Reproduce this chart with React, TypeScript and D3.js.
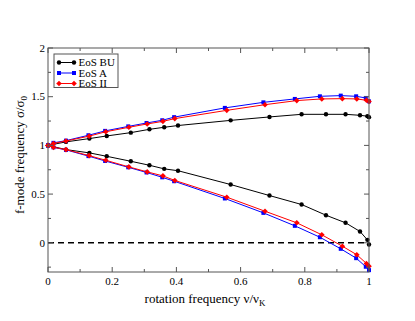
import React from "react";
import * as d3 from "d3";

const buX = [0, 0.056, 0.129, 0.183, 0.258, 0.316, 0.362, 0.405, 0.569, 0.69, 0.79, 0.866, 0.927, 0.972, 0.995, 1.0];
const buUpper = [1.0, 1.036, 1.07, 1.097, 1.131, 1.165, 1.186, 1.204, 1.257, 1.292, 1.319, 1.319, 1.319, 1.309, 1.3, 1.29];
const buLower = [1.0, 0.957, 0.923, 0.888, 0.837, 0.796, 0.759, 0.74, 0.598, 0.485, 0.393, 0.283, 0.205, 0.116, 0.03, -0.017];

const aX = [0, 0.017, 0.056, 0.126, 0.178, 0.25, 0.307, 0.356, 0.393, 0.551, 0.671, 0.769, 0.847, 0.912, 0.96, 0.99, 1.0];
const aUpper = [1.0, 1.026, 1.049, 1.104, 1.149, 1.195, 1.23, 1.258, 1.29, 1.385, 1.442, 1.477, 1.504, 1.511, 1.504, 1.487, 1.452];
const aLower = [1.0, 0.98, 0.954, 0.89, 0.84, 0.775, 0.722, 0.672, 0.632, 0.455, 0.307, 0.174, 0.057, -0.062, -0.158, -0.246, -0.281];

const iiX = [0, 0.017, 0.056, 0.128, 0.18, 0.252, 0.309, 0.358, 0.395, 0.557, 0.676, 0.775, 0.853, 0.917, 0.962, 0.992, 1.0];
const iiUpper = [1.0, 1.02, 1.045, 1.095, 1.14, 1.186, 1.22, 1.247, 1.275, 1.36, 1.418, 1.46, 1.477, 1.48, 1.477, 1.463, 1.45];
const iiLower = [1.0, 0.98, 0.957, 0.895, 0.847, 0.779, 0.728, 0.687, 0.64, 0.468, 0.324, 0.205, 0.082, -0.035, -0.123, -0.212, -0.24];

const xMajor = [0, 0.2, 0.4, 0.6, 0.8, 1];
const xMinor = [0.1, 0.3, 0.5, 0.7, 0.9];
const yMajor = [0, 0.5, 1, 1.5, 2];
const yMinor = [-0.25, 0.25, 0.75, 1.25, 1.75];
const legendLabels = ["EoS BU", "EoS A", "EoS II"];

const W = 415, H = 321;
const L = 48, R = 369, T = 48, B = 272;
const FONT = "Liberation Serif";

export default function App() {
  const x = d3.scaleLinear().domain([0, 1]).range([L, R]);
  const y = d3.scaleLinear().domain([-0.3, 2]).range([B, T]);
  const line = (xs: number[], ys: number[]) =>
    d3.line<number>().x((_, i) => x(xs[i])).y((d) => y(d))(ys) || "";

  const series = [
    { xs: buX, ys: [buUpper, buLower], color: "#000000", sym: "circle" },
    { xs: aX, ys: [aUpper, aLower], color: "#0000ff", sym: "square" },
    { xs: iiX, ys: [iiUpper, iiLower], color: "#ff0000", sym: "diamond" },
  ];

  const marker = (sym: string, cx: number, cy: number, color: string, key: string) => {
    if (sym === "circle") return <circle key={key} cx={cx} cy={cy} r={2.2} fill={color} />;
    if (sym === "square") return <rect key={key} x={cx - 2} y={cy - 2} width={4} height={4} fill={color} />;
    return <path key={key} d={`M${cx},${cy - 2.8}L${cx + 2.8},${cy}L${cx},${cy + 2.8}L${cx - 2.8},${cy}Z`} fill={color} />;
  };

  const frame = "#555";
  return (
    <svg width={W} height={H} style={{ position: "absolute", left: 0, top: 0, background: "#fff" }}>
      <rect x={0} y={0} width={W} height={H} fill="#fff" />
      <line x1={L} x2={R} y1={y(0)} y2={y(0)} stroke="#000" strokeWidth={1.4} strokeDasharray="6,4" />
      {series.map((s, si) =>
        s.ys.map((ys, k) => (
          <g key={`${si}-${k}`}>
            <path d={line(s.xs, ys)} fill="none" stroke={s.color} strokeWidth={1} />
            {ys.map((v, i) => marker(s.sym, x(s.xs[i]), y(v), s.color, `${si}-${k}-${i}`))}
          </g>
        ))
      )}
      <rect x={L} y={T} width={R - L} height={B - T} fill="none" stroke={frame} strokeWidth={1} />
      {xMajor.map((v) => (
        <g key={`xM${v}`}>
          <line x1={x(v)} x2={x(v)} y1={B} y2={B - 5} stroke={frame} />
          <line x1={x(v)} x2={x(v)} y1={T} y2={T + 5} stroke={frame} />
          <text x={x(v)} y={285} fontSize={11} fontFamily={FONT} textAnchor="middle">{v}</text>
        </g>
      ))}
      {xMinor.map((v) => (
        <g key={`xm${v}`}>
          <line x1={x(v)} x2={x(v)} y1={B} y2={B - 3} stroke={frame} />
          <line x1={x(v)} x2={x(v)} y1={T} y2={T + 3} stroke={frame} />
        </g>
      ))}
      {yMajor.map((v) => (
        <g key={`yM${v}`}>
          <line x1={L} x2={L + 5} y1={y(v)} y2={y(v)} stroke={frame} />
          <line x1={R} x2={R - 5} y1={y(v)} y2={y(v)} stroke={frame} />
          <text x={45} y={y(v) + 3.8} fontSize={11} fontFamily={FONT} textAnchor="end">{v}</text>
        </g>
      ))}
      {yMinor.map((v) => (
        <g key={`ym${v}`}>
          <line x1={L} x2={L + 3} y1={y(v)} y2={y(v)} stroke={frame} />
          <line x1={R} x2={R - 3} y1={y(v)} y2={y(v)} stroke={frame} />
        </g>
      ))}
      <text x={205} y={303} fontSize={13} fontFamily={FONT} textAnchor="middle">
        rotation frequency ν/ν<tspan fontSize={9} dy={3}>K</tspan>
      </text>
      <text transform={`translate(24,155) rotate(-90)`} fontSize={13} fontFamily={FONT} textAnchor="middle">
        f-mode frequency σ/σ<tspan fontSize={9} dy={3}>0</tspan>
      </text>
      <rect x={54} y={54} width={64} height={33.5} fill="#fff" stroke={frame} strokeWidth={1} />
      {series.map((s, i) => {
        const ly = 62.5 + i * 10.5;
        return (
          <g key={`lg${i}`}>
            <line x1={59} x2={74} y1={ly} y2={ly} stroke={s.color} strokeWidth={1} />
            {marker(s.sym, 59, ly, s.color, `lgm${i}a`)}
            {marker(s.sym, 74, ly, s.color, `lgm${i}b`)}
            <text x={78.5} y={ly + 3.8} fontSize={11} fontFamily={FONT}>{legendLabels[i]}</text>
          </g>
        );
      })}
    </svg>
  );
}
